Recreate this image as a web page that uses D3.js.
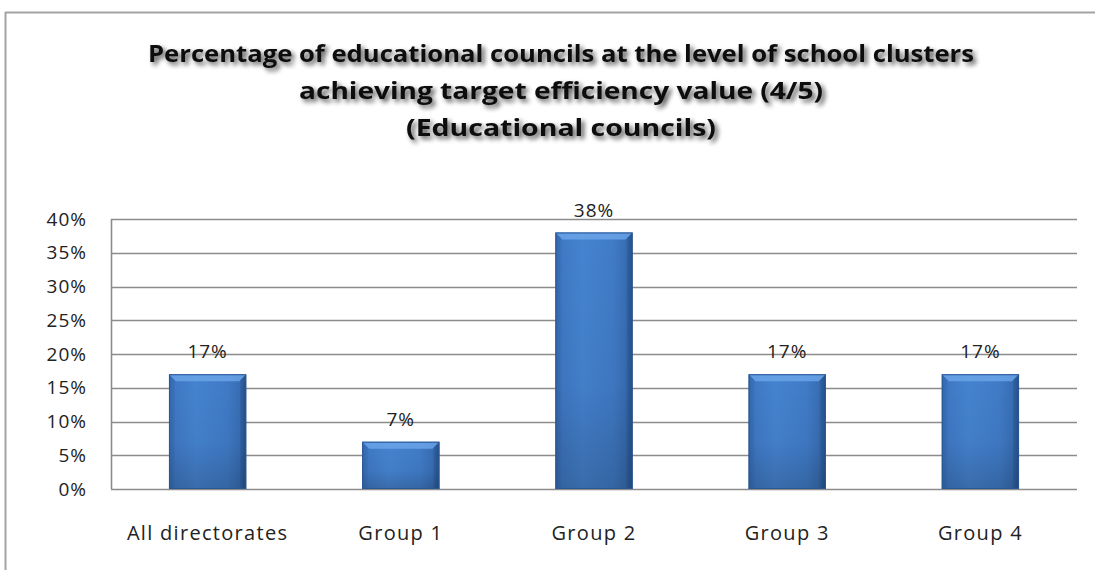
<!DOCTYPE html>
<html>
<head>
<meta charset="utf-8">
<script src="https://cdn.jsdelivr.net/npm/d3@7"></script>
<style>
  html, body { margin: 0; padding: 0; background: #fff; }
  svg { display: block; }
</style>
</head>
<body>
<svg id="chart" width="1095" height="570"></svg>
<script>
// Chart data
const categories = ["All directorates", "Group 1", "Group 2", "Group 3", "Group 4"];
const values = [17, 7, 38, 17, 17];
const yTicks = [0, 5, 10, 15, 20, 25, 30, 35, 40];
const titleLines = [
  "Percentage of educational councils at the level of school clusters",
  "achieving target efficiency value (4/5)",
  "(Educational councils)"
];

const W = 1095, H = 570;
const plot = { left: 111, right: 1077, top: 219, bottom: 489 };
const labelFont = "'Open Sans', sans-serif";
const svg = d3.select("#chart");
const defs = svg.append("defs");

// Title shadow
const shadow = defs.append("filter").attr("id", "titleShadow")
  .attr("x", "-5%").attr("y", "-40%").attr("width", "110%").attr("height", "180%");
shadow.append("feGaussianBlur").attr("in", "SourceAlpha").attr("stdDeviation", 2.4).attr("result", "b");
shadow.append("feOffset").attr("in", "b").attr("dx", 3).attr("dy", 3).attr("result", "o");
shadow.append("feComponentTransfer").attr("in", "o").attr("result", "s")
  .append("feFuncA").attr("type", "linear").attr("slope", 0.7);
const merge = shadow.append("feMerge");
merge.append("feMergeNode").attr("in", "s");
merge.append("feMergeNode").attr("in", "SourceGraphic");

// Bar fills
const hGrad = defs.append("linearGradient").attr("id", "barH").attr("x1", 0).attr("x2", 1).attr("y1", 0).attr("y2", 0);
[[0, "#3569ad"], [0.08, "#3f79c5"], [0.35, "#4583d0"], [0.75, "#407bc7"], [0.93, "#376db2"], [1, "#29558f"]]
  .forEach(([o, c]) => hGrad.append("stop").attr("offset", o).attr("stop-color", c));
const vGrad = defs.append("linearGradient").attr("id", "barV").attr("x1", 0).attr("x2", 0).attr("y1", 0).attr("y2", 1);
[[0, "#000", 0], [0.6, "#000", 0.04], [1, "#000", 0.18]]
  .forEach(([o, c, a]) => vGrad.append("stop").attr("offset", o).attr("stop-color", c).attr("stop-opacity", a));

// Outer frame
svg.append("line").attr("x1", 5).attr("x2", W).attr("y1", 12.5).attr("y2", 12.5)
  .attr("stroke", "#a3a3a3").attr("stroke-width", 2);
svg.append("line").attr("x1", 5.5).attr("x2", 5.5).attr("y1", 12).attr("y2", H)
  .attr("stroke", "#a3a3a3").attr("stroke-width", 2);

// Title
const title = svg.append("g").attr("filter", "url(#titleShadow)");
const titleY = [62, 99, 136];
const titleW = [826, 524, 310];
titleLines.forEach((t, i) => {
  title.append("text")
    .attr("x", 561).attr("y", titleY[i])
    .attr("text-anchor", "middle")
    .attr("font-family", "'Open Sans', sans-serif")
    .attr("font-weight", "bold")
    .attr("font-size", 24)
    .attr("fill", "#0d0d0d")
    .attr("textLength", titleW[i])
    .attr("lengthAdjust", "spacingAndGlyphs")
    .text(t);
});

// Scales
const x = d3.scaleBand().domain(categories).range([plot.left, plot.right]).paddingInner(0.6).paddingOuter(0.3);
const y = d3.scaleLinear().domain([0, 40]).range([plot.bottom, plot.top]);

// Gridlines
svg.append("g").selectAll("line").data(yTicks).join("line")
  .attr("x1", plot.left).attr("x2", plot.right)
  .attr("y1", d => Math.round(y(d)) + 0.5).attr("y2", d => Math.round(y(d)) + 0.5)
  .attr("stroke", "#8c8c8c").attr("stroke-width", 1.6);
svg.append("line").attr("x1", plot.left + 0.5).attr("x2", plot.left + 0.5)
  .attr("y1", y(40)).attr("y2", y(0)).attr("stroke", "#8c8c8c").attr("stroke-width", 1.6);

// Y axis labels
const yAxis = d3.axisLeft(y).tickValues(yTicks).tickFormat(d => d + "%").tickSize(0).tickPadding(24);
const ya = svg.append("g").attr("transform", `translate(${plot.left},0)`).call(yAxis);
ya.select(".domain").remove();
ya.selectAll("text").attr("font-family", labelFont).attr("font-size", 19)
  .attr("fill", "#222").attr("letter-spacing", 1);

// X axis labels
const xAxis = d3.axisBottom(x).tickSize(0).tickPadding(37);
const xa = svg.append("g").attr("transform", `translate(0,${plot.bottom})`).call(xAxis);
xa.select(".domain").remove();
xa.selectAll("text").attr("font-family", labelFont).attr("font-size", 20)
  .attr("fill", "#222").attr("letter-spacing", 1.3);

// Bars
const bars = svg.append("g").selectAll("g").data(categories.map((c, i) => ({ c, v: values[i] }))).join("g");
bars.append("rect")
  .attr("x", d => x(d.c)).attr("y", d => y(d.v))
  .attr("width", x.bandwidth()).attr("height", d => y(0) - y(d.v))
  .attr("fill", "url(#barH)");
bars.append("rect")
  .attr("x", d => x(d.c)).attr("y", d => y(d.v))
  .attr("width", x.bandwidth()).attr("height", d => y(0) - y(d.v))
  .attr("fill", "url(#barV)");
// bevelled top edge
bars.append("path")
  .attr("d", d => {
    const x0 = x(d.c), x1 = x0 + x.bandwidth(), t = y(d.v), b = 7;
    return `M${x0},${t}L${x1},${t}L${x1 - b},${t + b}L${x0 + b},${t + b}Z`;
  })
  .attr("fill", "#6da6ea").attr("opacity", 0.8);
// side bevels
bars.append("path")
  .attr("d", d => {
    const x0 = x(d.c), t = y(d.v), bt = y(0), b = 6;
    return `M${x0},${t}L${x0 + b},${t + b}L${x0 + b},${bt}L${x0},${bt}Z`;
  })
  .attr("fill", "#2c5d9e").attr("opacity", 0.15);
bars.append("path")
  .attr("d", d => {
    const x1 = x(d.c) + x.bandwidth(), t = y(d.v), bt = y(0), b = 6;
    return `M${x1},${t}L${x1 - b},${t + b}L${x1 - b},${bt}L${x1},${bt}Z`;
  })
  .attr("fill", "#1b3f73").attr("opacity", 0.25);
bars.append("rect")
  .attr("x", d => x(d.c) + 0.5).attr("y", d => y(d.v) + 0.5)
  .attr("width", x.bandwidth() - 1).attr("height", d => y(0) - y(d.v) - 1)
  .attr("fill", "none").attr("stroke", "#2a5794").attr("stroke-width", 1);

// Value labels
bars.append("text")
  .attr("x", d => x(d.c) + x.bandwidth() / 2)
  .attr("y", d => y(d.v) - 16)
  .attr("text-anchor", "middle")
  .attr("font-family", labelFont).attr("font-size", 19)
  .attr("fill", "#222").attr("letter-spacing", 1)
  .text(d => d.v + "%");
</script>
</body>
</html>
